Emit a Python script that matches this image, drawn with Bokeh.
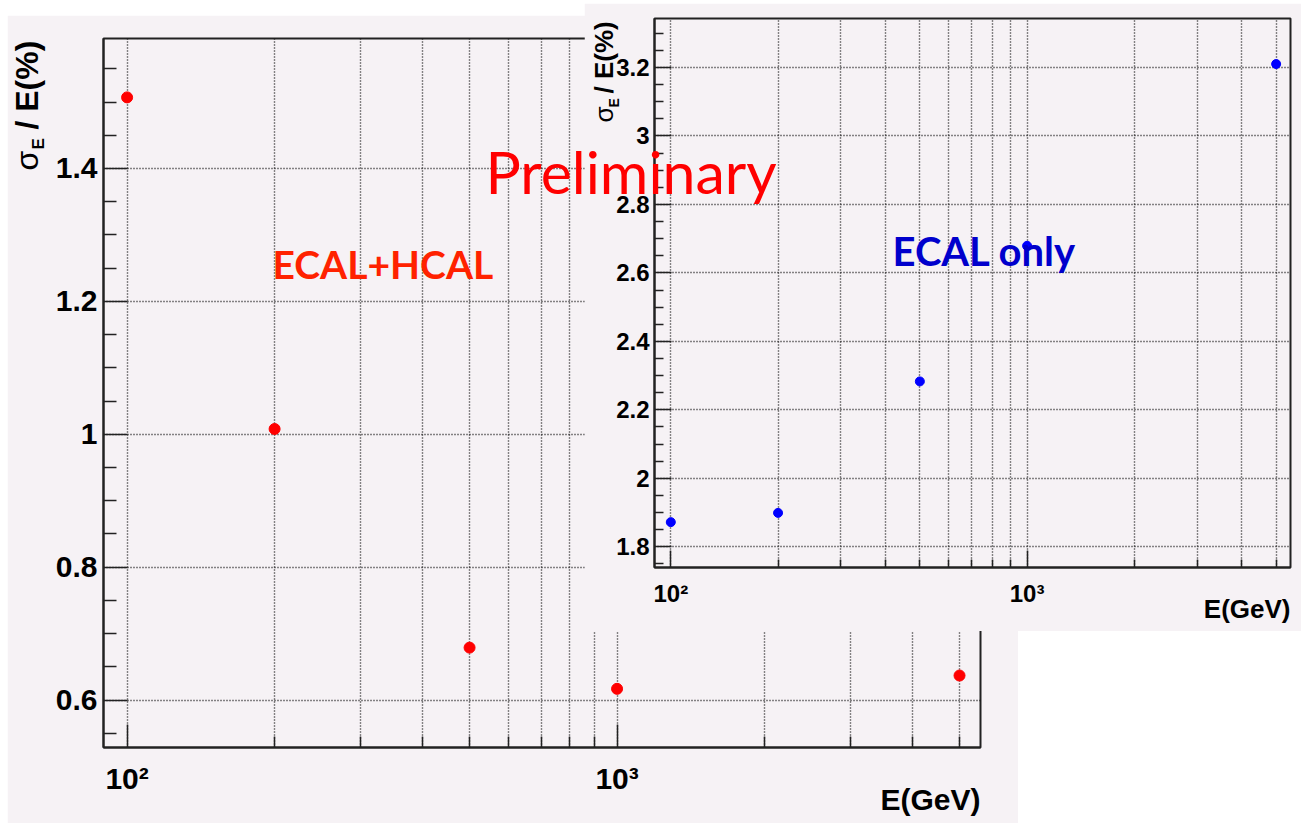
import math

import numpy as np
from bokeh.embed import file_html
from bokeh.layouts import row
from bokeh.models import FixedTicker, Label, Range1d
from bokeh.plotting import figure
from bokeh.resources import INLINE

# ---- data -----------------------------------------------------------------
energies = [100, 200, 500, 1000, 5000]                 # beam energy, GeV
res_ecal_hcal = [1.507, 1.008, 0.679, 0.617, 0.637]    # sigma_E / E (%)
res_ecal_only = [1.872, 1.899, 2.283, 2.679, 3.210]    # sigma_E / E (%)

x_major = [100, 1000]
x_minor = [200, 300, 400, 500, 600, 700, 800, 900, 2000, 3000, 4000, 5000]
x_labels = {100: "10²", 1000: "10³"}

left_y_major = [0.6, 0.8, 1.0, 1.2, 1.4]
left_y_labels = ["0.6", "0.8", "1", "1.2", "1.4"]
right_y_major = [1.8, 2.0, 2.2, 2.4, 2.6, 2.8, 3.0, 3.2]
right_y_labels = ["1.8", "2", "2.2", "2.4", "2.6", "2.8", "3", "3.2"]

PANEL = "#f6f2f5"
FONT = "Liberation Sans"
# Labels are anchored at the middle of their text box; these shift the anchor
# from the wanted baseline (as a fraction of the font size).
MID = {"Liberation Sans": 0.36, "Lato": 0.38}


def minor_steps(lo, hi, step, majors):
    vals = [round(v, 4) for v in np.arange(lo, hi + 1e-9, step)]
    return [v for v in vals if all(abs(v - m) > 1e-6 for m in majors)]


def root_pad(width, height, borders, x_range, y_range, y_major, y_labels,
             y_minor, label_px, tick_major, tick_minor, xtick_major,
             xtick_minor, x_standoff, y_standoff):
    top, right, bottom, left = borders
    p = figure(width=width, height=height, x_axis_type="log",
               x_range=Range1d(*x_range), y_range=Range1d(*y_range),
               output_backend="svg", toolbar_location=None,
               min_border_top=top, min_border_right=right,
               min_border_bottom=bottom, min_border_left=left)
    p.title = None
    p.frame_align = False
    p.background_fill_color = PANEL
    p.border_fill_color = PANEL
    p.outline_line_color = "#222222"
    p.outline_line_width = 2

    xt = FixedTicker(ticks=x_major, minor_ticks=x_minor)
    yt = FixedTicker(ticks=y_major, minor_ticks=y_minor)
    xa, ya = p.xaxis[0], p.yaxis[0]
    xa.ticker = xt
    ya.ticker = yt
    p.xgrid.ticker = xt
    p.ygrid.ticker = yt
    xa.major_label_overrides = x_labels
    ya.major_label_overrides = dict(zip(y_major, y_labels))

    for ax in (xa, ya):
        ax.axis_line_color = "#222222"
        ax.axis_line_width = 2
        ax.major_tick_line_color = "#222222"
        ax.minor_tick_line_color = "#222222"
        ax.major_tick_line_width = 1.5
        ax.minor_tick_line_width = 1.5
        ax.major_tick_out = 0
        ax.minor_tick_out = 0
        ax.major_label_text_font = FONT
        ax.major_label_text_font_style = "bold"
        ax.major_label_text_font_size = f"{label_px}px"
        ax.major_label_text_color = "black"
    ya.major_tick_in = tick_major
    ya.minor_tick_in = tick_minor
    xa.major_tick_in = xtick_major
    xa.minor_tick_in = xtick_minor
    xa.major_label_standoff = x_standoff
    ya.major_label_standoff = y_standoff

    # dotted grid at every x tick (major and minor), major y ticks only
    for g in (p.xgrid[0], p.ygrid[0]):
        g.grid_line_color = "#111111"
        g.grid_line_dash = "1 2"
        g.grid_line_width = 1.4
        g.grid_line_alpha = 1.0
    p.xgrid[0].minor_grid_line_color = "#111111"
    p.xgrid[0].minor_grid_line_dash = "1 2"
    p.xgrid[0].minor_grid_line_width = 1.4
    p.xgrid[0].minor_grid_line_alpha = 1.0
    return p


def tag(x, y, text, px, color):
    return Label(x=x, y=y, text=text, text_color=color, text_font="Lato",
                 text_font_style="bold", text_font_size=f"{px}px",
                 text_baseline="middle")


# ---- ECAL+HCAL pad ---------------------------------------------------------
left = root_pad(1011, 808, (23, 38, 76, 96), (89.5, 5518), (0.5287, 1.5956),
                left_y_major, left_y_labels,
                minor_steps(0.55, 1.55, 0.05, left_y_major),
                30, 24, 13, 23, 11, 14, 6)
left.scatter(energies, res_ecal_hcal, size=11, color="#ff0000")
left.add_layout(tag(198, 1.2563, "ECAL+HCAL", 39, "#ff2200"))
left.margin = (15, 0, 0, 7)

# ---- ECAL only pad ---------------------------------------------------------
right = root_pad(717, 628, (15, 11, 64, 70), (90.0, 5486), (1.7395, 3.343),
                 right_y_major, right_y_labels,
                 minor_steps(1.75, 3.35, 0.05, right_y_major),
                 24, 17, 9, 17, 8, 12, 5)
right.add_layout(tag(419, 2.6646, "ECAL only", 40, "#0000cc"))
right.scatter(energies, res_ecal_only, size=9, color="#0000ff")
right.margin = (3, 0, 0, -434)

# ---- page-wide layer: axis titles and the overall stamp ---------------------
ov = figure(width=1301, height=823, x_range=Range1d(0, 1301),
            y_range=Range1d(823, 0), output_backend="svg",
            toolbar_location=None, min_border=0,
            x_axis_location=None, y_axis_location=None)
ov.title = None
ov.frame_align = False
ov.grid.visible = False
ov.outline_line_color = None
ov.background_fill_color = None
ov.border_fill_color = None
ov.margin = (0, 0, 0, -1301)


def put(x, base, text, px, bold=True, vertical=False, align="left",
        color="black", font=FONT):
    """Place text so that its baseline sits at `base` (page pixels)."""
    shift = MID[font] * px
    if vertical:
        lx, ly, angle = base - shift, x, math.pi / 2
    else:
        lx, ly, angle = x, base - shift, 0.0
    ov.add_layout(Label(x=lx, y=ly, text=text, angle=angle, text_align=align,
                        text_baseline="middle", text_color=color,
                        text_font=font, text_font_size=f"{px}px",
                        text_font_style="bold" if bold else "normal"))


# y titles: sigma with subscript E, then "/ E(%)"  (x = start along the text)
put(170, 38, "σ", 32, bold=False, vertical=True)
put(149, 44, "E", 17, vertical=True)
put(129, 38, "/ E(%)", 32, vertical=True)
put(122, 613, "σ", 26, bold=False, vertical=True)
put(107, 619, "E", 14, vertical=True)
put(93, 613, "/ E(%)", 26, vertical=True)
# x titles
put(980, 810, "E(GeV)", 30, align="right")
put(1290, 618, "E(GeV)", 26, align="right")
# stamp
put(485, 193, "Preliminary", 59, bold=False, color="#ff0000", font="Lato")

layout = row(left, right, ov)
open("out.html", "w").write(file_html(layout, INLINE))
